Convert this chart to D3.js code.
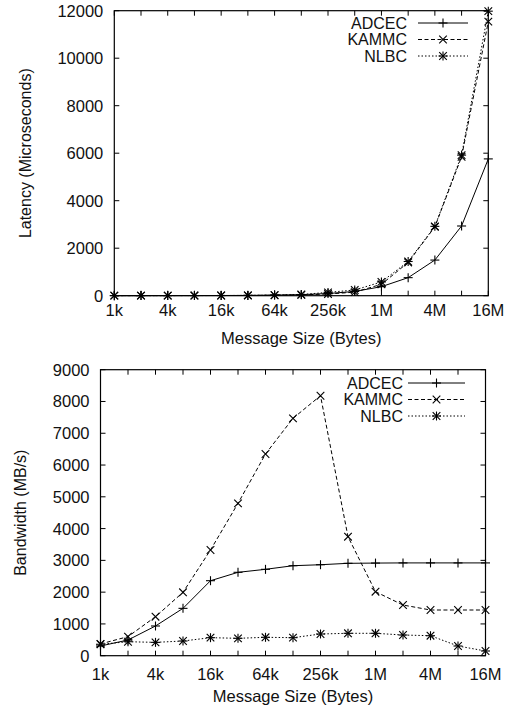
<!DOCTYPE html>
<html>
<head>
<meta charset="utf-8">
<script src="https://cdn.jsdelivr.net/npm/d3@7"></script>
<style>
  html, body { margin: 0; padding: 0; background: #fff; }
  svg { display: block; }
  text { font-family: "Liberation Sans", Arial, Helvetica, sans-serif; fill: #111; }
</style>
</head>
<body>
<svg id="chart" width="509" height="711"></svg>
<script>
// ---------- data ----------
const messageBytes = [1024, 2048, 4096, 8192, 16384, 32768, 65536, 131072, 262144, 524288, 1048576, 2097152, 4194304, 8388608, 16777216];
const xTickLabels = ["1k", "4k", "16k", "64k", "256k", "1M", "4M", "16M"];
const xTickLabelBytes = [1024, 4096, 16384, 65536, 262144, 1048576, 4194304, 16777216];
const seriesNames = ["ADCEC", "KAMMC", "NLBC"];

// latency (microseconds)
const latencyADCEC = [3, 4, 5, 6, 8, 12, 25, 45, 90, 180, 380, 760, 1500, 2935, 5760];
const latencyKAMMC = [3, 4, 5, 6, 8, 10, 20, 35, 70, 150, 480, 1400, 2900, 5850, 11540];
const latencyNLBC  = [3, 4, 5, 6, 8, 12, 25, 50, 140, 240, 580, 1440, 2920, 5920, 11980];
const latencyTicks = [0, 2000, 4000, 6000, 8000, 10000, 12000];

// bandwidth (MB/s)
const bandwidthADCEC = [305, 494, 935, 1490, 2360, 2624, 2718, 2832, 2863, 2907, 2915, 2920, 2920, 2920, 2920];
const bandwidthKAMMC = [370, 600, 1227, 1995, 3326, 4795, 6347, 7470, 8181, 3745, 2014, 1595, 1438, 1438, 1438];
const bandwidthNLBC  = [360, 440, 420, 462, 567, 547, 579, 567, 683, 705, 705, 651, 629, 305, 148];
const bandwidthTicks = [0, 1000, 2000, 3000, 4000, 5000, 6000, 7000, 8000, 9000];

// ---------- drawing ----------
const svg = d3.select("#chart");
const styles = {
  ADCEC: { dash: null, marker: "plus" },
  KAMMC: { dash: "4,2.5", marker: "cross" },
  NLBC:  { dash: "1.5,2", marker: "star" }
};

function drawMarker(g, type, cx, cy) {
  const p = 4.5, c = 3.8;
  const lines = [];
  if (type === "plus" || type === "star") {
    lines.push([cx - p, cy, cx + p, cy], [cx, cy - p, cx, cy + p]);
  }
  if (type === "cross" || type === "star") {
    lines.push([cx - c, cy - c, cx + c, cy + c], [cx - c, cy + c, cx + c, cy - c]);
  }
  lines.forEach(l => {
    g.append("line").attr("x1", l[0]).attr("y1", l[1]).attr("x2", l[2]).attr("y2", l[3])
      .attr("stroke", "#000").attr("stroke-width", 1.1);
  });
}

function drawChart(opt) {
  const { left, right, top, bottom, yMax, yTicks, series, yTitle, legend, yTitleX, tickLabelY, xTitleY } = opt;
  const g = svg.append("g");
  const x = d3.scaleLog().base(2).domain([messageBytes[0], messageBytes[messageBytes.length - 1]]).range([left, right]);
  const y = d3.scaleLinear().domain([0, yMax]).range([bottom, top]);
  const tl = 5;

  // ticks inward on all sides
  messageBytes.forEach(b => {
    const px = x(b);
    g.append("line").attr("x1", px).attr("x2", px).attr("y1", bottom).attr("y2", bottom - tl).attr("stroke", "#000");
    g.append("line").attr("x1", px).attr("x2", px).attr("y1", top).attr("y2", top + tl).attr("stroke", "#000");
  });
  yTicks.forEach(v => {
    const py = y(v);
    g.append("line").attr("x1", left).attr("x2", left + tl).attr("y1", py).attr("y2", py).attr("stroke", "#000");
    g.append("line").attr("x1", right).attr("x2", right - tl).attr("y1", py).attr("y2", py).attr("stroke", "#000");
    g.append("text").attr("x", left - 11).attr("y", py).attr("dy", "0.36em")
      .attr("text-anchor", "end").attr("font-size", 16.5).text(v);
  });
  xTickLabels.forEach((lab, i) => {
    g.append("text").attr("x", x(xTickLabelBytes[i])).attr("y", tickLabelY)
      .attr("text-anchor", "middle").attr("font-size", 16.5).text(lab);
  });
  g.append("text").attr("x", (left + right) / 2).attr("y", xTitleY)
    .attr("text-anchor", "middle").attr("font-size", 16.5).text("Message Size (Bytes)");
  g.append("text").attr("transform", `translate(${yTitleX},${(top + bottom) / 2}) rotate(-90)`)
    .attr("text-anchor", "middle").attr("font-size", 16).text(yTitle);

  // series
  seriesNames.forEach((name, si) => {
    const vals = series[si];
    const st = styles[name];
    const line = d3.line().x((d, i) => x(messageBytes[i])).y(d => y(d));
    g.append("path").attr("d", line(vals)).attr("fill", "none").attr("stroke", "#000")
      .attr("stroke-width", 1).attr("stroke-dasharray", st.dash);
    vals.forEach((v, i) => drawMarker(g, st.marker, x(messageBytes[i]), y(v)));
  });

  // legend
  seriesNames.forEach((name, si) => {
    const st = styles[name];
    const ly = legend.y + si * legend.step;
    g.append("text").attr("x", legend.textRight).attr("y", ly).attr("dy", "0.36em")
      .attr("text-anchor", "end").attr("font-size", 16).text(name);
    g.append("line").attr("x1", legend.lineX1).attr("x2", legend.lineX2).attr("y1", ly).attr("y2", ly)
      .attr("stroke", "#000").attr("stroke-width", 1).attr("stroke-dasharray", st.dash);
    drawMarker(g, st.marker, (legend.lineX1 + legend.lineX2) / 2, ly);
  });

  // frame
  g.append("rect").attr("x", left).attr("y", top).attr("width", right - left).attr("height", bottom - top)
    .attr("fill", "none").attr("stroke", "#000").attr("stroke-width", 1.2);
}

drawChart({
  left: 114.3, right: 488.3, top: 10.7, bottom: 295.7,
  yMax: 12000, yTicks: latencyTicks,
  series: [latencyADCEC, latencyKAMMC, latencyNLBC],
  yTitle: "Latency (Microseconds)", yTitleX: 31, tickLabelY: 316, xTitleY: 344,
  legend: { textRight: 407, lineX1: 418, lineX2: 468, y: 23, step: 16.5 }
});

drawChart({
  left: 100.5, right: 485.5, top: 369.7, bottom: 655.7,
  yMax: 9000, yTicks: bandwidthTicks,
  series: [bandwidthADCEC, bandwidthKAMMC, bandwidthNLBC],
  yTitle: "Bandwidth (MB/s)", yTitleX: 26, tickLabelY: 680, xTitleY: 702,
  legend: { textRight: 403, lineX1: 408, lineX2: 465, y: 383, step: 16.5 }
});
</script>
</body>
</html>
